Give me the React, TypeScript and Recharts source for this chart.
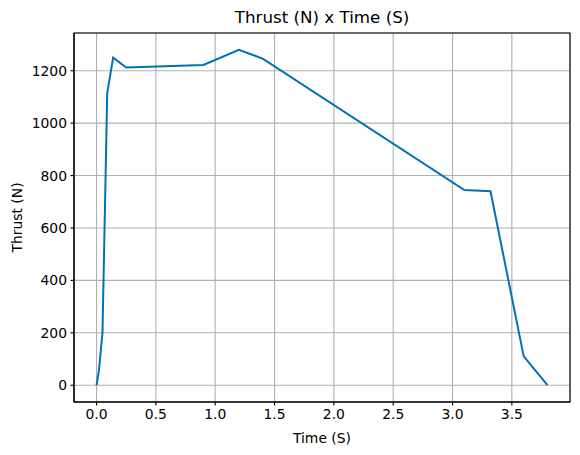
import React from 'react';
import { CartesianGrid, Label, Line, LineChart, ReferenceArea, XAxis, YAxis } from 'recharts';

const timeS = [0, 0.02, 0.05, 0.09, 0.14, 0.25, 0.9, 1.2, 1.4, 3.1, 3.32, 3.6, 3.8];
const thrustN = [0, 56, 200, 1115, 1250, 1212, 1222, 1280, 1246, 745, 740, 110, 0];
const xTicks = [0, 0.5, 1, 1.5, 2, 2.5, 3, 3.5];
const yTicks = [0, 200, 400, 600, 800, 1000, 1200];

const data = timeS.map((t, i) => ({ t, thrust: thrustN[i] }));

const xDomain: [number, number] = [-0.19, 3.99];
const yDomain: [number, number] = [-64, 1344];

const font = 'DejaVu Sans, sans-serif';
const tickStyle = { fill: '#000', fontSize: 13.9, fontFamily: font };

const App: React.FC = () => {
  return (
    <div style={{ position: 'absolute', left: 0, top: 0, width: 580, height: 455, background: '#fff' }}>
      <div
        style={{
          position: 'absolute', left: 74, top: 7, width: 496, textAlign: 'center',
          fontFamily: font, fontSize: 16.7, lineHeight: '20px', color: '#000',
        }}
      >
        Thrust (N) x Time (S)
      </div>
      <LineChart width={580} height={455} data={data} margin={{ top: 33, right: 10, bottom: 0, left: 0 }}>
        <CartesianGrid stroke="#b0b0b0" strokeWidth={1.1} />
        <XAxis
          dataKey="t"
          type="number"
          domain={xDomain}
          ticks={xTicks}
          allowDataOverflow
          tickFormatter={(v: number) => v.toFixed(1)}
          height={53}
          tick={tickStyle}
          tickSize={3.5}
          tickMargin={3.5}
          stroke="#000"
          strokeWidth={1.1}
        >
          <Label
            content={({ viewBox }: any) => (
              <text x={viewBox.x + viewBox.width / 2} y={viewBox.y + 36} textAnchor="middle" dominantBaseline="central"
                style={{ fontSize: 13.9, fontFamily: font, fill: '#000' }}>
                Time (S)
              </text>
            )}
          />
        </XAxis>
        <YAxis
          type="number"
          domain={yDomain}
          ticks={yTicks}
          allowDataOverflow
          width={74}
          tick={tickStyle}
          tickSize={3.5}
          tickMargin={3.5}
          stroke="#000"
          strokeWidth={1.1}
        >
          <Label
            content={({ viewBox }: any) => {
              const cx = viewBox.x + 17;
              const cy = viewBox.y + viewBox.height / 2;
              return (
                <text x={cx} y={cy} transform={`rotate(-90, ${cx}, ${cy})`} textAnchor="middle" dominantBaseline="central"
                  style={{ fontSize: 13.9, fontFamily: font, fill: '#000' }}>
                  Thrust (N)
                </text>
              );
            }}
          />
        </YAxis>
        <ReferenceArea
          x1={xDomain[0]}
          x2={xDomain[1]}
          y1={yDomain[0]}
          y2={yDomain[1]}
          fill="none"
          fillOpacity={0}
          stroke="#000"
          strokeWidth={1.1}
          ifOverflow="visible"
        />
        <Line
          dataKey="thrust"
          type="linear"
          stroke="#0072b2"
          strokeWidth={2}
          dot={false}
          activeDot={false}
          isAnimationActive={false}
        />
      </LineChart>
    </div>
  );
};

export default App;
